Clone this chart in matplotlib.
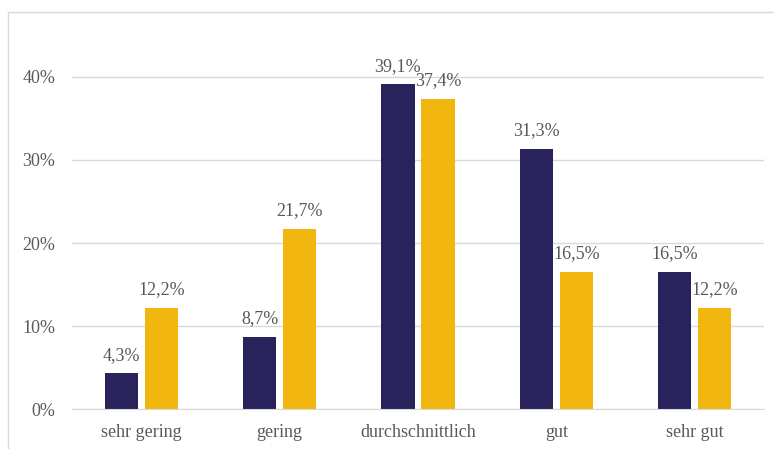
import matplotlib
matplotlib.use("Agg")
import matplotlib.pyplot as plt
from matplotlib.patches import Rectangle
import numpy as np

categories = ["sehr gering", "gering", "durchschnittlich", "gut", "sehr gut"]
series_a = [4.3, 8.7, 39.1, 31.3, 16.5]
series_b = [12.2, 21.7, 37.4, 16.5, 12.2]
yticks = [0, 10, 20, 30, 40]
ytick_labels = ["0%", "10%", "20%", "30%", "40%"]

navy = "#29235C"
gold = "#F2B70F"
txt = "#595959"

plt.rcParams["font.family"] = ["Liberation Serif", "DejaVu Serif"]

fig = plt.figure(figsize=(7.74, 4.49), dpi=100)
ax = fig.add_axes([0.093, 0.089, 0.894, 0.832])

x = np.arange(len(categories))
w = 0.24
off = 0.145
ba = ax.bar(x - off, series_a, w, color=navy)
bb = ax.bar(x + off, series_b, w, color=gold)

def fmt(v):
    return f"{v:.1f}".replace(".", ",") + "%"

for bars, vals in ((ba, series_a), (bb, series_b)):
    for r, v in zip(bars, vals):
        ax.annotate(fmt(v), (r.get_x() + r.get_width() / 2, v),
                    xytext=(0, 7), textcoords="offset points",
                    ha="center", va="bottom", fontsize=13, color=txt)

ax.set_xlim(-0.5, 4.5)
ax.set_ylim(0, 45)
ax.set_yticks(yticks)
ax.set_yticklabels(ytick_labels)
ax.set_xticks(x)
ax.set_xticklabels(categories)
ax.tick_params(axis="both", length=0, labelsize=13, labelcolor=txt)
ax.tick_params(axis="y", pad=12)
ax.tick_params(axis="x", pad=11)
ax.grid(axis="y", color="#D9D9D9", linewidth=1)
ax.set_axisbelow(True)
for s in ["top", "right", "left"]:
    ax.spines[s].set_visible(False)
ax.spines["bottom"].set_color("#D9D9D9")

fig.patches.append(Rectangle((8 / 774, -0.1), 1.0, 1 - 12 / 449 + 0.1,
                             transform=fig.transFigure, fill=False,
                             edgecolor="#D9D9D9", linewidth=1))

fig.savefig("out.png", dpi=100)
